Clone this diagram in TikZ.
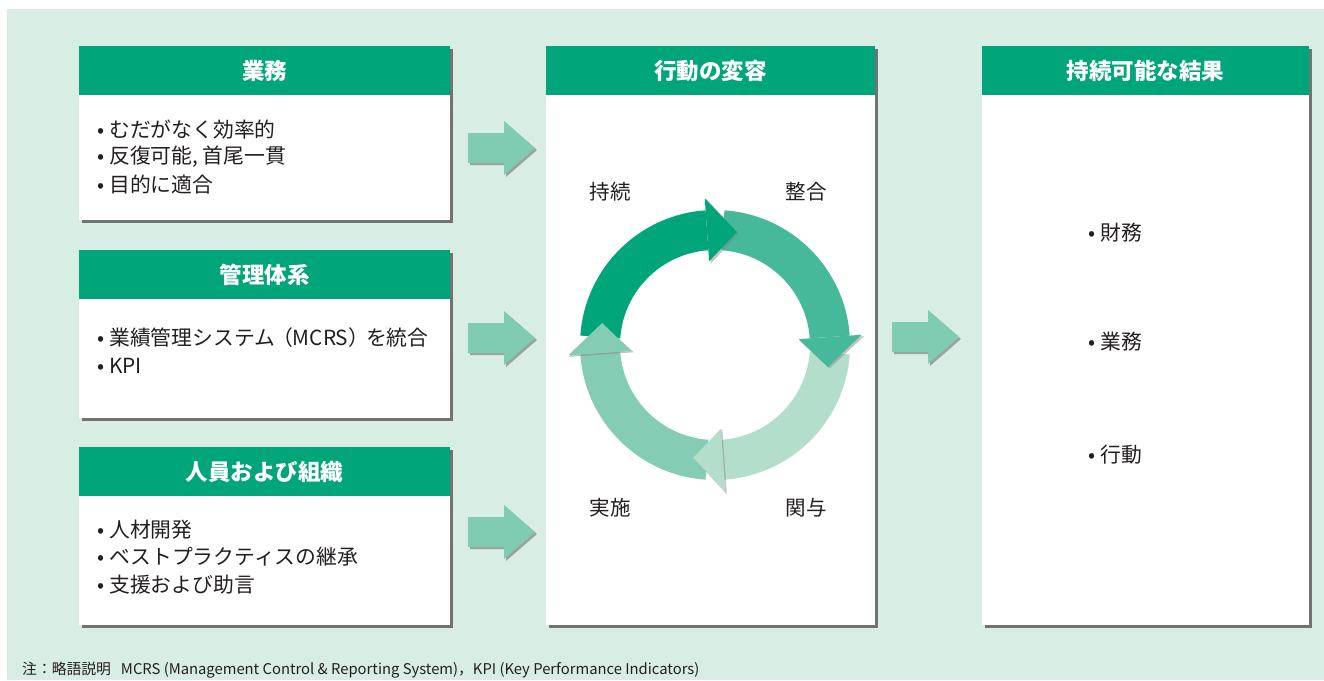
\documentclass[tikz,border=0pt]{standalone}
\usepackage{fontspec}
\setmainfont{Noto Sans CJK JP}
\usetikzlibrary{shadows}
\definecolor{bgc}{RGB}{216,237,228}
\definecolor{headc}{RGB}{0,166,122}
\definecolor{arrowc}{RGB}{128,204,178}
\definecolor{arcA}{RGB}{0,166,122}
\definecolor{arcB}{RGB}{69,185,153}
\definecolor{arcC}{RGB}{179,222,204}
\definecolor{arcD}{RGB}{133,204,180}
\definecolor{textc}{RGB}{35,31,32}
\newcommand\blockarrow[2]{%
  \fill[black!55,opacity=.6] (#1+2,#2+13) -- (#1+38,#2+13) -- (#1+38,#2+25) -- (#1+69,#2-2) -- (#1+38,#2-29) -- (#1+38,#2-17) -- (#1+2,#2-17) -- cycle;
  \fill[arrowc] (#1,#2+15) -- (#1+36,#2+15) -- (#1+36,#2+27) -- (#1+67,#2) -- (#1+36,#2-27) -- (#1+36,#2-15) -- (#1,#2-15) -- cycle;}
\newcommand\arcbody[3]{%
  \fill[#1] (#2:135) arc[start angle=#2, end angle=#3, radius=135] -- (#3:95) arc[start angle=#3, end angle=#2, radius=95] -- cycle;}
\newcommand\archead[3]{%
  \fill[black!50,opacity=.45,shift={(1.5,-1.5)}] (#2:148) -- (#3:115) -- (#2:83) -- cycle;
  \fill[#1] (#2:147) -- (#3:115) -- (#2:84) -- cycle;}
\tikzset{
  box/.style={fill=white, anchor=north west, inner sep=0, drop shadow={shadow xshift=2.5pt, shadow yshift=-2.5pt, fill=black!70, opacity=.75}},
  head/.style={fill=headc, anchor=north west, inner sep=0, minimum height=49pt, text=white, font=\fontsize{22.5}{26}\selectfont\bfseries},
  item/.style={anchor=west, inner sep=0, text=textc, font=\fontsize{20.8}{24}\selectfont},
  lbl/.style={inner sep=0, text=textc, font=\fontsize{20.5}{24}\selectfont},
}
\begin{document}
\begin{tikzpicture}[x=1pt,y=1pt]
\useasboundingbox (0,0) rectangle (1324,-680);
\fill[white] (0,0) rectangle (1324,-680);
\fill[bgc] (7,-9) rectangle (1324,-680);

% left boxes
\node[box, minimum width=371pt, minimum height=174pt] (b1) at (79,-46) {};
\node[head, minimum width=371pt] (h1) at (79,-46) {業務};
\node[box, minimum width=371pt, minimum height=168pt] (b2) at (79,-250) {};
\node[head, minimum width=371pt] (h2) at (79,-250) {管理体系};
\node[box, minimum width=371pt, minimum height=178pt] (b3) at (79,-447) {};
\node[head, minimum width=371pt] (h3) at (79,-447) {人員および組織};

% middle and right boxes
\node[box, minimum width=329pt, minimum height=579pt] (bm) at (546,-46) {};
\node[head, minimum width=329pt] (hm) at (546,-46) {行動の変容};
\node[box, minimum width=327pt, minimum height=579pt] (br) at (982,-46) {};
\node[head, minimum width=327pt] (hr) at (982,-46) {持続可能な結果};

% items
\node[item] (i11) at (97,-130) {•\hspace{5pt}むだがなく効率的};
\node[item] (i12) at (97,-157) {•\hspace{5pt}反復可能, 首尾一貫};
\node[item] (i13) at (97,-185) {•\hspace{5pt}目的に適合};
\node[item] (i21) at (97,-338) {•\hspace{5pt}業績管理システム\hspace{-3pt}（MCRS）\hspace{-3pt}を統合};
\node[item] (i22) at (97,-366) {•\hspace{5pt}KPI};
\node[item] (i31) at (97,-530) {•\hspace{5pt}人材開発};
\node[item] (i32) at (97,-557) {•\hspace{5pt}ベストプラクティスの継承};
\node[item] (i33) at (97,-585) {•\hspace{5pt}支援および助言};
\node[item] (r1) at (1088,-233) {•\hspace{5pt}財務};
\node[item] (r2) at (1088,-342) {•\hspace{5pt}業務};
\node[item] (r3) at (1088,-455) {•\hspace{5pt}行動};

% block arrows
\blockarrow{468}{-148}
\blockarrow{468}{-338}
\blockarrow{468}{-532}
\blockarrow{892}{-337}

% cycle
\begin{scope}[shift={(715,-345)}]
  \arcbody{arcA}{176}{94}
  \arcbody{arcB}{86}{4}
  \arcbody{arcC}{-4}{-86}
  \arcbody{arcD}{266}{184}
  \archead{arcA}{94}{79}
  \archead{arcB}{4}{-11}
  \archead{arcC}{-86}{-101}
  \archead{arcD}{184}{169}
\end{scope}
\node[lbl] (l1) at (610,-192) {持続};
\node[lbl] (l2) at (806,-192) {整合};
\node[lbl] (l3) at (610,-508) {実施};
\node[lbl] (l4) at (806,-508) {関与};

% footnote
\node[anchor=west, inner sep=0, text=textc, font=\fontsize{14.8}{17}\selectfont] (fn) at (22,-670) {注：略語説明\hspace{10pt}MCRS (Management Control \& Reporting System)，KPI (Key Performance Indicators)};
\end{tikzpicture}
\end{document}
